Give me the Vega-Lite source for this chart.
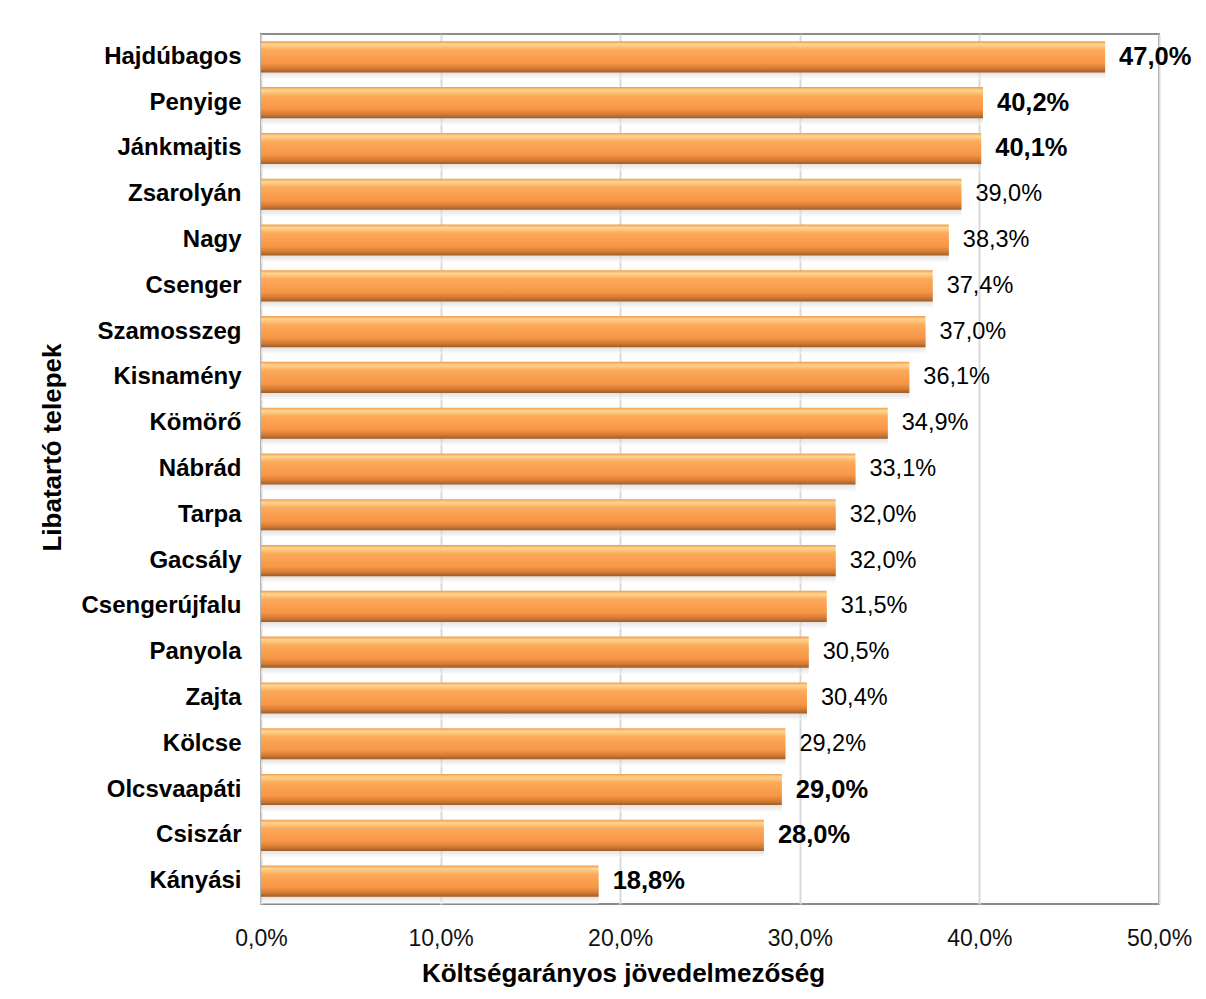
{
  "$schema": "https://vega.github.io/schema/vega-lite/v6.json",
  "autosize": {"type": "none"},
  "width": 898,
  "height": 870,
  "padding": {"left": 261, "top": 34, "right": 47, "bottom": 95},
  "background": "#ffffff",
  "config": {
    "locale": {"number": {"decimal": ",", "thousands": " ", "grouping": [3], "currency": ["", ""]}},
    "font": "Liberation Sans",
    "view": {"stroke": "#8c8c8c", "strokeWidth": 2}
  },
  "data": {
    "values": [
      {"site": "Hajdúbagos", "value": 0.470},
      {"site": "Penyige", "value": 0.402},
      {"site": "Jánkmajtis", "value": 0.401},
      {"site": "Zsarolyán", "value": 0.390},
      {"site": "Nagy", "value": 0.383},
      {"site": "Csenger", "value": 0.374},
      {"site": "Szamosszeg", "value": 0.370},
      {"site": "Kisnamény", "value": 0.361},
      {"site": "Kömörő", "value": 0.349},
      {"site": "Nábrád", "value": 0.331},
      {"site": "Tarpa", "value": 0.320},
      {"site": "Gacsály", "value": 0.320},
      {"site": "Csengerújfalu", "value": 0.315},
      {"site": "Panyola", "value": 0.305},
      {"site": "Zajta", "value": 0.304},
      {"site": "Kölcse", "value": 0.292},
      {"site": "Olcsvaapáti", "value": 0.290},
      {"site": "Csiszár", "value": 0.280},
      {"site": "Kányási", "value": 0.188}
    ]
  },
  "encoding": {
    "y": {
      "field": "site",
      "type": "nominal",
      "sort": null,
      "scale": {"paddingInner": 0.32, "paddingOuter": 0.16},
      "axis": {
        "title": "Libatartó telepek",
        "titleFont": "Liberation Sans",
        "titleFontSize": 26,
        "titleFontWeight": "bold",
        "titleColor": "#000000",
        "titleX": -209,
        "titleY": 413,
        "titleAngle": -90,
        "titleAlign": "center",
        "titleBaseline": "middle",
        "labelFont": "Liberation Sans",
        "labelFontSize": 24,
        "labelFontWeight": "bold",
        "labelColor": "#000000",
        "labelPadding": 20,
        "ticks": false,
        "domain": false,
        "grid": false
      }
    },
    "x": {
      "field": "value",
      "type": "quantitative",
      "scale": {"domain": [0, 0.5], "nice": false},
      "axis": {
        "title": "Költségarányos jövedelmezőség",
        "titleFont": "Liberation Sans",
        "titleFontSize": 26,
        "titleFontWeight": "bold",
        "titleColor": "#000000",
        "titleX": 362,
        "titleY": 69,
        "titleAlign": "center",
        "titleBaseline": "middle",
        "format": ".1%",
        "values": [0, 0.1, 0.2, 0.3, 0.4, 0.5],
        "labelFont": "Liberation Sans",
        "labelFontSize": 23,
        "labelColor": "#111111",
        "labelPadding": 34,
        "labelBaseline": "middle",
        "labelFlush": false,
        "labelOverlap": false,
        "ticks": false,
        "domain": false,
        "grid": true,
        "gridColor": "#d9d9d9",
        "gridWidth": 2
      }
    }
  },
  "layer": [
    {
      "mark": {
        "type": "bar",
        "yOffset": 7,
        "x": 2,
        "opacity": 0.55,
        "color": {
          "gradient": "linear", "x1": 0, "y1": 0, "x2": 0, "y2": 1,
          "stops": [
            {"offset": 0, "color": "#ffffff"},
            {"offset": 0.55, "color": "#a0a0a0"},
            {"offset": 0.8, "color": "#d0d0d0"},
            {"offset": 1, "color": "#ffffff"}
          ]
        }
      }
    },
    {
      "mark": {
        "type": "bar",
        "x": 1,
        "color": {
          "gradient": "linear", "x1": 0, "y1": 0, "x2": 0, "y2": 1,
          "stops": [
            {"offset": 0, "color": "#f39a4a"},
            {"offset": 0.1, "color": "#fdd68f"},
            {"offset": 0.28, "color": "#fcaa5a"},
            {"offset": 0.7, "color": "#f79646"},
            {"offset": 0.88, "color": "#d27a33"},
            {"offset": 1, "color": "#9c5c28"}
          ]
        }
      }
    },
    {
      "transform": [{"filter": {"not": {"field": "site", "oneOf": ["Hajdúbagos", "Penyige", "Jánkmajtis", "Olcsvaapáti", "Csiszár", "Kányási"]}}}],
      "mark": {"type": "text", "align": "left", "baseline": "middle", "dx": 14, "font": "Liberation Sans", "fontSize": 23.5, "color": "#000000"},
      "encoding": {"text": {"field": "value", "type": "quantitative", "format": ".1%"}}
    },
    {
      "transform": [{"filter": {"field": "site", "oneOf": ["Hajdúbagos", "Penyige", "Jánkmajtis", "Olcsvaapáti", "Csiszár", "Kányási"]}}],
      "mark": {"type": "text", "align": "left", "baseline": "middle", "dx": 14, "font": "Liberation Sans", "fontSize": 25.5, "fontWeight": "bold", "color": "#000000"},
      "encoding": {"text": {"field": "value", "type": "quantitative", "format": ".1%"}}
    }
  ]
}
